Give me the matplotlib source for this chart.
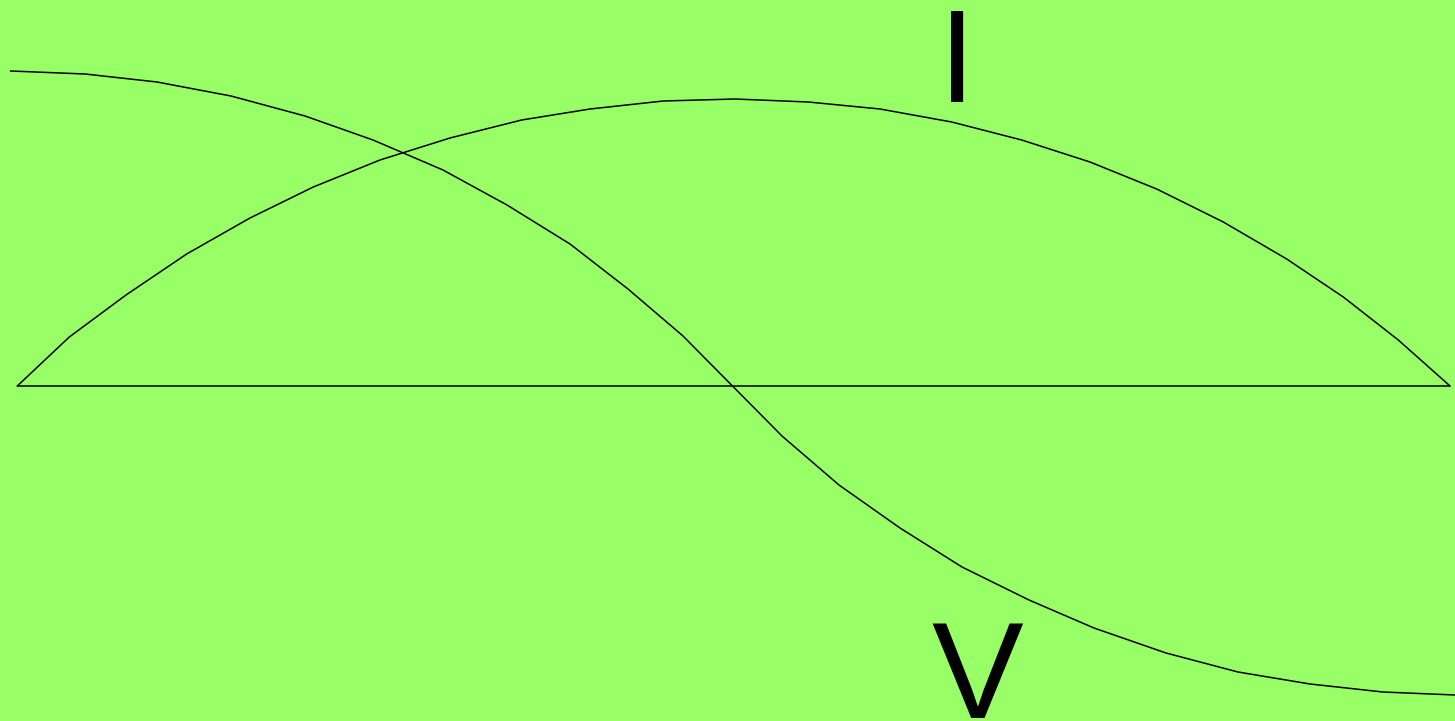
import matplotlib
matplotlib.use("Agg")
import matplotlib.pyplot as plt

# Current curve I (half sine arch), x positions and values
i_x = [17.3, 69.3, 126, 186.7, 250, 313.3, 380, 450, 521.7, 590, 663.3, 735,
       808.3, 880, 951.7, 1021.7, 1090, 1156.7, 1223.3, 1286.7, 1343.3, 1398.3, 1450]
i_y = [0, 49, 91, 132, 168, 199, 226, 248, 266, 277, 285, 287,
       284, 277, 264, 246, 224, 197, 164, 127, 89, 46, 0]

# Voltage curve V (cosine-like)
v_x = [10.7, 85, 157, 231, 305, 373, 443, 507, 570, 628, 683,
       782, 839, 900, 962, 1029, 1094, 1166, 1238, 1310, 1383, 1455]
v_y = [315, 312, 304, 290, 270, 246, 216, 181, 142, 97, 50,
       -50, -99, -142, -181, -214, -242, -267, -286, -298, -306, -309]

# zero axis
axis_x = [17.3, 1450]
axis_y = [0, 0]

labels = ["I", "V"]
label_pos = [(957, 284), (977, -332)]
label_size = [94, 99]

bg = "#99ff66"

fig = plt.figure(figsize=(14.55, 7.21), dpi=100, facecolor=bg)
ax = fig.add_axes([0, 0, 1, 1])
ax.set_facecolor(bg)
ax.set_xlim(0, 1455)
ax.set_ylim(-335, 386)
ax.axis("off")

lw = 1.1
ax.plot(axis_x, axis_y, color="black", lw=lw, solid_capstyle="butt")
ax.plot(i_x, i_y, color="black", lw=lw, solid_joinstyle="miter")
ax.plot(v_x, v_y, color="black", lw=lw, solid_joinstyle="miter")

for lab, (x, y), fs in zip(labels, label_pos, label_size):
    ax.text(x, y, lab, fontsize=fs, family=["Liberation Sans", "DejaVu Sans"],
            ha="center", va="baseline", color="black")

fig.savefig("out.png", dpi=100, facecolor=bg)
